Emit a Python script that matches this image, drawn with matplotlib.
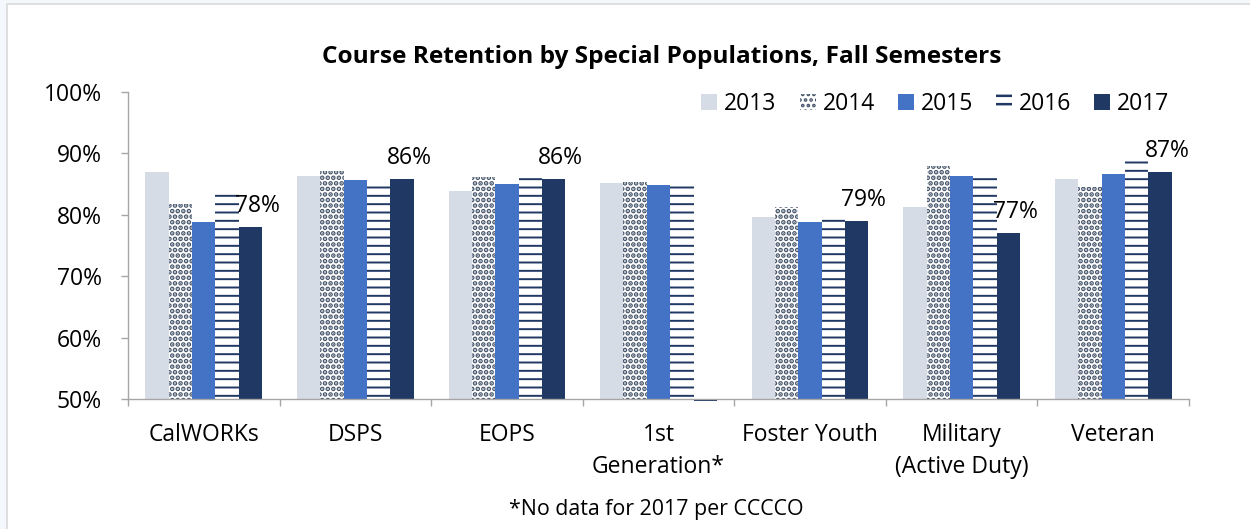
import matplotlib.pyplot as plt
import matplotlib.patches as mpatches
import numpy as np

# data (percent)
categories = ['CalWORKs', 'DSPS', 'EOPS', '1st\nGeneration*', 'Foster Youth',
              'Military\n(Active Duty)', 'Veteran']
years = ['2013', '2014', '2015', '2016', '2017']
v2013 = [87.0, 86.3, 83.9, 85.2, 79.6, 81.2, 85.8]
v2014 = [81.7, 87.1, 86.1, 85.4, 81.3, 87.9, 84.5]
v2015 = [78.8, 85.7, 85.0, 84.8, 78.8, 86.4, 86.7]
v2016 = [84.0, 85.3, 86.5, 85.4, 80.1, 86.6, 89.2]
# 1st Generation has no 2017 data, it shows as a sliver under the axis
v2017 = [78.0, 85.9, 85.9, 49.7, 79.0, 77.0, 87.0]
labels2017 = ['78%', '86%', '86%', '', '79%', '77%', '87%']
yticks = [50, 60, 70, 80, 90, 100]

plt.rcParams['font.family'] = ['Open Sans', 'DejaVu Sans']
plt.rcParams['hatch.linewidth'] = 1.8

# bar styles per year: face, hatch colour, hatch, hatch line width
styles = [
    dict(facecolor='#D6DCE5', edgecolor='#D6DCE5', hatch=None),
    dict(facecolor='white', edgecolor='#44546A', hatch='...'),
    dict(facecolor='#4472C4', edgecolor='#4472C4', hatch=None),
    dict(facecolor='white', edgecolor='#203864', hatch='--'),
    dict(facecolor='#203864', edgecolor='#203864', hatch=None),
]
hatch_lw = [1.0, 2.4, 1.0, 1.4, 1.0]

fig = plt.figure(figsize=(12.5, 5.29), dpi=100)
fig.patch.set_facecolor('#F4F7FB')
# white chart area with thin grey frame
frame = mpatches.Rectangle((7 / 1250, -0.01), 1.0, 1.01 - 4 / 529, transform=fig.transFigure,
                           facecolor='white', edgecolor='#D9D9D9', linewidth=1.2, zorder=-5)
fig.patches.append(frame)

ax = fig.add_axes([128 / 1250, 1 - 399 / 529, (1189 - 128) / 1250, (399 - 92) / 529])
ax.set_facecolor('none')
ax.set_zorder(2)

x = np.arange(len(categories))
w = 0.154
series = [v2013, v2014, v2015, v2016, v2017]
handles = []
for i, vals in enumerate(series):
    vals = np.array(vals)
    pos = x + (i - 2) * w
    bars = ax.bar(pos, vals - 50, bottom=50, width=w, linewidth=0, clip_on=False,
                  label=years[i], **styles[i])
    h = mpatches.Patch(linewidth=0, label=years[i], **styles[i])
    for b in list(bars) + [h]:
        if hasattr(b, 'set_hatch_linewidth'):
            b.set_hatch_linewidth(hatch_lw[i])
    handles.append(h)

# data labels on 2017
for i, lab in enumerate(labels2017):
    if lab:
        ax.annotate(lab, (x[i] + 2 * w, v2017[i]), xytext=(5, 15),
                    textcoords='offset points', ha='center', va='center',
                    fontsize=16.5, color='black')

ax.set_ylim(50, 100)
ax.set_xlim(-0.5, len(categories) - 0.5)
ax.set_yticks(yticks)
ax.set_yticklabels([f'{t}%' for t in yticks])
ax.set_xticks(x)
ax.set_xticklabels(categories, fontsize=16.5, linespacing=1.45)
ax.set_xticks(np.arange(len(categories) + 1) - 0.5, minor=True)
ax.tick_params(axis='x', which='major', length=0, pad=17)
ax.tick_params(axis='x', which='minor', length=5, color='#A6A6A6', width=1)
ax.tick_params(axis='y', length=5, color='#A6A6A6', width=1, labelsize=16.5, pad=14)
for s in ['top', 'right']:
    ax.spines[s].set_visible(False)
for s in ['left', 'bottom']:
    ax.spines[s].set_color('#A6A6A6')
    ax.spines[s].set_linewidth(1)

ax.legend(handles=handles, loc='upper right', bbox_to_anchor=(0.99, 1.03), ncol=5,
          frameon=False, fontsize=16.5, handlelength=0.7, handleheight=0.7,
          handletextpad=0.3, columnspacing=1.0, borderaxespad=0)

fig.text(662 / 1250, 1 - 57 / 529, 'Course Retention by Special Populations, Fall Semesters',
         ha='center', va='center', fontsize=17.6, fontweight='bold')
fig.text(656 / 1250, 1 - 509 / 529, '*No data for 2017 per CCCCO',
         ha='center', va='center', fontsize=15.4)

fig.savefig('out.png', dpi=100, facecolor=fig.get_facecolor())
